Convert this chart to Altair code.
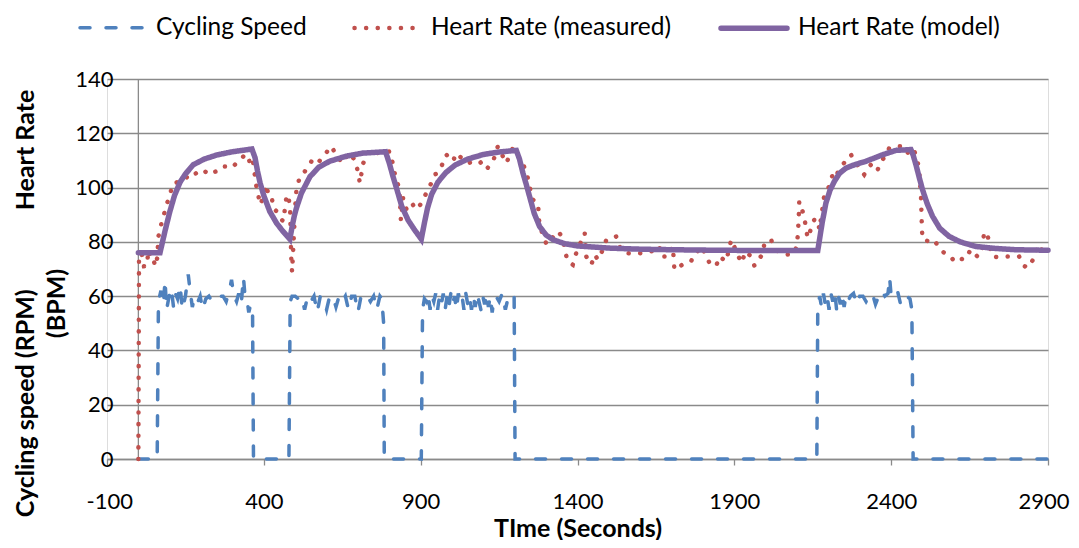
import altair as alt
import pandas as pd

# ---------------- data ----------------
speed_t = [0, 60, 64, 72, 80, 85, 90, 98, 105, 112, 118, 125, 133, 140, 150, 159, 165, 172, 180, 190,
           197, 205, 215, 225, 235, 250, 270, 280, 290, 297, 305, 313, 320, 328, 335, 340, 346, 352, 358, 364,
           367, 480, 484, 490, 500, 510, 520, 530, 540, 550, 560, 570, 580, 590, 600, 610, 620, 630, 640, 650,
           660, 670, 680, 690, 700, 710, 720, 730, 740, 750, 760, 770, 776, 782, 784, 902, 906, 912, 918, 924,
           930, 936, 942, 948, 954, 960, 966, 972, 978, 984, 990, 996, 1002, 1008, 1014, 1020, 1026, 1032, 1038, 1044,
           1050, 1056, 1062, 1068, 1074, 1080, 1086, 1092, 1098, 1104, 1110, 1116, 1122, 1128, 1134, 1140, 1150, 1160, 1170, 1180,
           1190, 1198, 1201, 2163, 2166, 2172, 2178, 2184, 2190, 2196, 2202, 2208, 2214, 2220, 2226, 2232, 2238, 2244, 2250, 2256,
           2262, 2270, 2280, 2290, 2300, 2310, 2320, 2330, 2340, 2350, 2360, 2370, 2380, 2390, 2395, 2400, 2410, 2420, 2430, 2440,
           2450, 2460, 2466, 2470, 2900]
speed_v = [0, 0, 58, 62, 57, 66, 55, 60, 63, 56, 61, 59, 64, 55, 60, 68, 62, 56, 60, 58,
           60, 55, 59, 60, 58, 60, 60, 58, 62, 66, 60, 58, 61, 57, 67, 60, 59, 54, 57, 55,
           0, 0, 58, 60, 60, 59, 60, 55, 60, 58, 60, 54, 60, 59, 55, 60, 60, 56, 60, 58,
           60, 55, 60, 60, 54, 60, 59, 60, 58, 60, 55, 60, 59, 50, 0, 0, 55, 59, 58, 61,
           55, 60, 58, 61, 55, 60, 57, 61, 55, 60, 56, 61, 57, 60, 55, 61, 58, 60, 55, 61,
           57, 60, 55, 60, 56, 61, 58, 55, 60, 57, 61, 56, 60, 54, 59, 60, 58, 61, 55, 60,
           59, 60, 0, 0, 55, 60, 56, 61, 57, 60, 55, 61, 58, 62, 55, 60, 57, 61, 56, 60,
           58, 60, 61, 57, 60, 60, 58, 60, 61, 57, 60, 62, 60, 61, 67, 60, 60, 62, 57, 60,
           60, 59, 55, 0, 0]

hr_t = [0, 2, 10, 18, 27, 32, 40, 48, 53, 60, 64, 74, 80, 90, 101, 110, 117, 133, 149, 165,
        181, 191, 207, 223, 233, 250, 266, 282, 297, 313, 335, 350, 356, 365, 377, 382, 388, 398, 409, 414,
        425, 430, 441, 451, 462, 473, 480, 484, 486, 488, 490, 494, 500, 504, 515, 531, 552, 568, 589, 616,
        632, 653, 669, 690, 701, 706, 717, 738, 759, 780, 802, 812, 818, 828, 833, 837, 844, 855, 871, 887,
        903, 918, 934, 945, 955, 971, 982, 987, 1003, 1014, 1030, 1051, 1072, 1088, 1109, 1131, 1146, 1162, 1173, 1194,
        1221, 1237, 1247, 1258, 1274, 1279, 1295, 1301, 1338, 1354, 1359, 1369, 1385, 1396, 1423, 1428, 1444, 1455, 1465, 1481,
        1492, 1513, 1524, 1534, 1550, 1571, 1587, 1608, 1624, 1645, 1661, 1667, 1688, 1704, 1709, 1720, 1741, 1762, 1773, 1799,
        1805, 1821, 1842, 1852, 1874, 1890, 1911, 1922, 1937, 1953, 1964, 1975, 1990, 1996, 2017, 2028, 2044, 2065, 2086, 2097,
        2102, 2105, 2107, 2112, 2123, 2128, 2134, 2145, 2155, 2166, 2171, 2182, 2187, 2198, 2208, 2219, 2229, 2245, 2272, 2288,
        2298, 2314, 2330, 2341, 2357, 2373, 2383, 2394, 2415, 2436, 2452, 2468, 2479, 2484, 2489, 2495, 2498, 2500, 2521, 2537,
        2553, 2575, 2590, 2601, 2617, 2633, 2654, 2675, 2690, 2696, 2707, 2712, 2723, 2739, 2755, 2771, 2792, 2808, 2819, 2834,
        2845, 2856, 2866, 2877, 2888]
hr_v = [0, 73, 76, 71, 71, 77, 74, 74, 71, 74, 82, 87, 89.4, 93.7, 97.4, 101.5, 101.7, 102.3, 103, 105.4,
        105, 106, 106.6, 104.8, 105.5, 106, 107.8, 107.8, 107.2, 109, 111.5, 112.1, 108.4, 110, 99.8, 97.4, 93.7, 96.2, 101, 97.4,
        96.8, 92.5, 91.2, 88.8, 87.6, 97.4, 95.5, 91, 80, 72, 69, 78, 93, 99.2, 104.1, 106, 109.7, 108.4, 111.5, 115.2,
        111.5, 109, 112.7, 110.3, 105.4, 101.7, 109, 114, 112.7, 113, 113.3, 108.4, 104.8, 101, 97.4, 88, 96.2, 91.9, 94.3, 91.9,
        94.3, 98, 101.7, 104.8, 105.4, 109, 112.1, 111.5, 109.7, 112.7, 110.9, 109, 109.7, 109.7, 106.6, 109.7, 115.2, 111.5, 109, 114.6,
        109.7, 106, 100.4, 95.5, 94.3, 85.7, 81.4, 79, 83.9, 81.4, 77.1, 72.8, 71.6, 75.9, 83.3, 74.6, 71.6, 75.3, 73.4, 77.1,
        80.8, 81.4, 82, 78.3, 75.9, 75.7, 75.7, 75.9, 76.5, 76.5, 78.3, 74.6, 74.6, 78.3, 69.7, 70.4, 72.2, 72.8, 75.5, 78.3,
        75.9, 72.2, 71, 74.6, 72.8, 80.8, 75.3, 72.2, 76.5, 74.6, 71.2, 73.4, 75.3, 79.6, 80.8, 77.7, 75.9, 75.3, 75.3, 77.7,
        82, 88, 94.9, 93.1, 89.4, 85.1, 81.4, 85, 88.2, 88.2, 84.5, 93.1, 97.4, 99.2, 102.9, 106.6, 105.4, 108.4, 112.1, 109,
        107.2, 104.8, 107.8, 109, 106.6, 110.3, 112.1, 114.6, 115.2, 115.2, 112.7, 114.6, 112.1, 109.7, 106.6, 97, 85, 80.8, 80.2, 80.8,
        77.7, 75.3, 74.6, 72.8, 74, 73.4, 77.1, 74.6, 76, 83.3, 83.3, 79, 74.6, 74.4, 74.6, 74.6, 74.6, 74.6, 71.6, 70.4,
        72.2, 74, 78.3, 76.5, 80.2]

model_t = [0, 69, 85, 100, 115, 133, 150, 175, 210, 250, 300, 362, 372, 380, 388, 400, 419, 440, 460, 483,
           490, 497, 504, 520, 547, 575, 610, 660, 716, 788, 800, 812, 825, 840, 860, 880, 902, 912, 922, 935,
           955, 980, 1010, 1050, 1100, 1150, 1205, 1215, 1226, 1237, 1247, 1262, 1279, 1300, 1322, 1360, 1400, 1500, 1600, 1700,
           1850, 2000, 2166, 2180, 2192, 2205, 2219, 2235, 2256, 2285, 2320, 2373, 2415, 2463, 2470, 2479, 2490, 2500, 2515, 2532,
           2555, 2585, 2620, 2670, 2730, 2797, 2900]
model_v = [76, 76, 84, 91, 97, 102, 105, 108.4, 110.5, 112, 113.2, 114.2, 111, 106, 101.8, 97, 91.2, 87, 84, 81,
           85.5, 89.5, 92.5, 98, 104, 107.5, 109.7, 111.5, 112.7, 113.2, 109, 104, 99, 93, 88, 84.5, 81, 87, 92.5, 97.5,
           102, 105.5, 108.3, 110.5, 112.2, 113.1, 113.7, 110.5, 105.4, 101, 96.8, 90.5, 85.7, 82.5, 80.8, 79.3, 78.5, 77.7, 77.3, 77.1,
           76.9, 76.8, 76.8, 87, 94.3, 99, 102.3, 105.2, 107.2, 108.5, 109.7, 112.1, 113.7, 114, 112, 108.4, 103.5, 99.2, 94, 89.4,
           85, 82, 80, 78.3, 77.6, 77.1, 76.9]

series_names = ["Cycling Speed", "Heart Rate (measured)", "Heart Rate (model)"]
series_colors = ["#4F81BD", "#C0504D", "#8064A2"]
series_dash = [[10, 16], [0.1, 11.5], [1, 0]]
series_width = [3.5, 5.5, 6.0]
x_ticks = [-100, 400, 900, 1400, 1900, 2400, 2900]
y_ticks = [0, 20, 40, 60, 80, 100, 120, 140]

frames = []
for name, ts, vs in [(series_names[0], speed_t, speed_v),
                     (series_names[1], hr_t, hr_v),
                     (series_names[2], model_t, model_v)]:
    frames.append(pd.DataFrame({"t": ts, "v": vs, "series": name}))
df = pd.concat(frames, ignore_index=True)
df["order"] = range(len(df))

FONT = "Lato"
GRID = "#8A8A8A"
NB = "\u00a0"

legend = alt.Legend(
    title=None, orient="none", direction="horizontal",
    legendX=-29, legendY=-87,
    symbolType="stroke", symbolSize=4356,
    labelFont=FONT, labelFontSize=24.5, labelColor="#000000", labelLimit=500,
    labelOffset=8, columnPadding=38,
)

base = alt.Chart(df)

lines = base.mark_line(strokeCap="round", clip=False).encode(
    x=alt.X("t:Q",
            scale=alt.Scale(domain=[-100, 2900], nice=False, zero=False),
            axis=alt.Axis(values=x_ticks, grid=False, domainColor=GRID, domainWidth=1.3,
                          tickColor=GRID, tickWidth=1.3, tickSize=6,
                          labelFont=FONT, labelFontSize=22, labelColor="#000000", labelPadding=26,
                          labelFlush=True, labelFlushOffset=21,
                          labelOverlap=False, labelExpr="'' + datum.value",
                          title="TIme (Seconds)", titleFont=FONT, titleFontSize=25,
                          titleFontWeight="bold", titleColor="#000000", titlePadding=4)),
    y=alt.Y("v:Q",
            scale=alt.Scale(domain=[0, 140], nice=False),
            axis=alt.Axis(values=y_ticks, grid=True, gridColor=GRID, gridWidth=1.3,
                          domain=False, ticks=False,
                          labelFont=FONT, labelFontSize=22, labelColor="#000000", labelPadding=-6,
                          title=["Cycling speed (RPM)" + NB * 13 + "Heart Rate", "(BPM)"],
                          titleFont=FONT, titleFontSize=25, titleFontWeight="bold",
                          titleColor="#000000", titleLineHeight=31,
                          titleAngle=270, titleBaseline="top", titleAlign="center",
                          titleX=-94, titleY=224)),
    color=alt.Color("series:N", scale=alt.Scale(domain=series_names, range=series_colors), legend=legend),
    strokeDash=alt.StrokeDash("series:N", scale=alt.Scale(domain=series_names, range=series_dash), legend=legend),
    strokeWidth=alt.StrokeWidth("series:N", scale=alt.Scale(domain=series_names, range=series_width), legend=legend),
    order="order:Q",
)

axis_rule = alt.Chart(pd.DataFrame({"z": [0]})).mark_rule(color=GRID, strokeWidth=1.3).encode(
    x=alt.X("z:Q")
)

# round caps for the legend symbols (so the dotted entry shows round dots)
legend_patch = [
    {"op": "add", "path": "/legends/0/encode",
     "value": {"symbols": {"update": {"strokeCap": {"value": "round"}}}}}
]

chart = alt.layer(axis_rule, lines).properties(
    width=941, height=380,
    autosize=alt.AutoSizeParams(type="none"),
    padding={"left": 99, "top": 71, "right": 23, "bottom": 81},
    usermeta={"embedOptions": {"patch": legend_patch}},
).configure_view(stroke=None).configure(background="white")

chart.save("out.html", embed_options={"renderer": "svg", "actions": False})
